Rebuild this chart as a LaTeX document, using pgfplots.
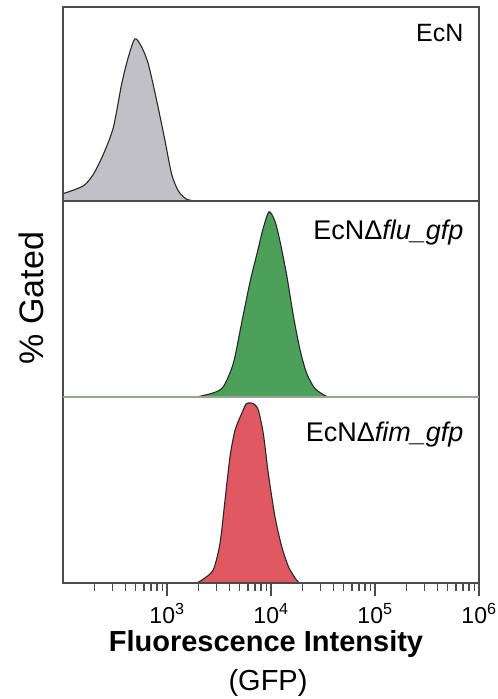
\documentclass[border=0pt]{standalone}
\usepackage{pgfplots}
\pgfplotsset{compat=1.18}
\usepackage{fontspec}
\setmainfont{Liberation Sans}

\definecolor{framec}{RGB}{75,75,75}
\definecolor{outline}{RGB}{40,40,40}
\definecolor{grayfill}{RGB}{192,192,198}
\definecolor{greenfill}{RGB}{76,160,90}
\definecolor{redfill}{RGB}{224,88,98}
\definecolor{sepgreen}{RGB}{150,165,140}

\newcommand{\tl}[1]{\fontsize{23}{26}\selectfont 10\textsuperscript{#1}}

\begin{document}
\begin{tikzpicture}[x=1pt,y=1pt]
\useasboundingbox (0,0) rectangle (498,699);

% EcN
\begin{axis}[xmode=log, xmin=100, xmax=1e6, ymin=0, ymax=1,
  scale only axis, width=416pt, height=194pt, anchor=south west, at={(63pt,498pt)},
  axis line style={draw=none}, ytick=\empty, xtick=\empty, clip=false]
\addplot[draw=outline, line width=1.1pt, smooth, tension=0.45, fill=grayfill] coordinates {
  (100.7,0.038) (156.7,0.078) (195.9,0.138) (244.3,0.241) (304.8,0.379)
  (366.4,0.603) (424.6,0.741) (492.0,0.836) (571.5,0.793) (660.7,0.707)
  (796.2,0.517) (957.2,0.310) (1109,0.138) (1285,0.052) (1545,0.009)
  (1928,0)
} \closedcycle;
\end{axis}

% EcN delta flu_gfp
\begin{axis}[xmode=log, xmin=100, xmax=1e6, ymin=0, ymax=1,
  scale only axis, width=416pt, height=196pt, anchor=south west, at={(63pt,302pt)},
  axis line style={draw=none}, ytick=\empty, xtick=\empty, clip=false]
\addplot[draw=outline, line width=1.1pt, smooth, tension=0.45, fill=greenfill] coordinates {
  (1928,0) (2786,0.021) (3475,0.052) (4345,0.172) (5224,0.379)
  (6281,0.586) (7278,0.724) (8433,0.862) (9572,0.945) (10914,0.897)
  (12218,0.793) (14158,0.621) (16406,0.414) (19011,0.241) (22029,0.121)
  (26485,0.043) (34277,0.003) (39719,0)
} \closedcycle;
\end{axis}

% EcN delta fim_gfp
\begin{axis}[xmode=log, xmin=100, xmax=1e6, ymin=0, ymax=1,
  scale only axis, width=416pt, height=186pt, anchor=south west, at={(63pt,116pt)},
  axis line style={draw=none}, ytick=\empty, clip=false,
  xtick={1000,10000,100000,1000000},
  xticklabels={\tl{3},\tl{4},\tl{5},\tl{6}},
  minor xtick={200,300,400,500,600,700,800,900,
    2000,3000,4000,5000,6000,7000,8000,9000,
    20000,30000,40000,50000,60000,70000,80000,90000,
    200000,300000,400000,500000,600000,700000,800000,900000},
  xtick pos=bottom, tick align=outside,
  major tick length=13pt, minor tick length=8pt,
  xtick style={draw=framec, line width=1.6pt},
  minor x tick style={draw=framec, line width=1.4pt},
  xticklabel style={yshift=-4pt}
]
\addplot[draw=outline, line width=1.1pt, smooth, tension=0.45, fill=redfill] coordinates {
  (1928,0) (2234,0.021) (2786,0.071) (3236,0.214) (3614,0.446)
  (4036,0.679) (4508,0.821) (5224,0.911) (5754,0.962) (6300,0.968) (6871,0.962)
  (7551,0.929) (8433,0.804) (9419,0.589) (10914,0.357) (12677,0.196)
  (14689,0.089) (17022,0.027) (18707,0)
} \closedcycle;
\end{axis}

% frames
\draw[framec, line width=2pt] (63,116) -- (63,692) -- (479,692) -- (479,116) -- cycle;
\draw[framec, line width=2pt] (63,498) -- (479,498);
\draw[sepgreen, line width=2pt] (63,302) -- (479,302);

% texts
\node[anchor=base east, font=\fontsize{25}{29}\selectfont] at (467,657) {EcN};
\node[anchor=base east, font=\fontsize{27}{31}\selectfont] at (467,459) {EcNΔ\textit{flu\_gfp}};
\node[anchor=base east, font=\fontsize{27}{31}\selectfont] at (467,257) {EcNΔ\textit{fim\_gfp}};
\node[rotate=90, font=\fontsize{34}{38}\selectfont] at (31,401) {\% Gated};
\node[anchor=base, font=\bfseries\fontsize{29}{34}\selectfont] at (266,47) {Fluorescence Intensity};
\node[anchor=base, font=\fontsize{29}{34}\selectfont] at (268,9) {(GFP)};
\end{tikzpicture}
\end{document}
